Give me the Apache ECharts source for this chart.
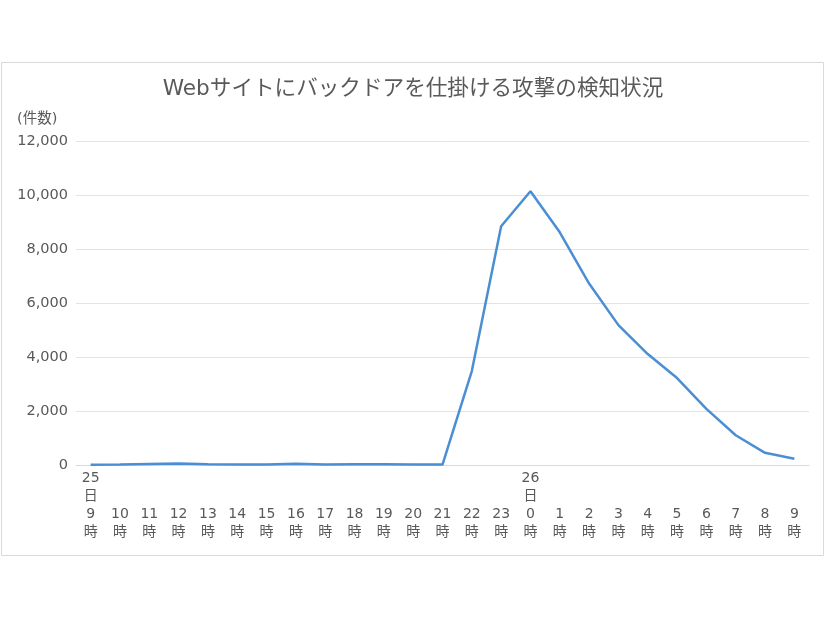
<!DOCTYPE html>
<html><head><meta charset="utf-8">
<script src="https://cdn.jsdelivr.net/npm/echarts@6/dist/echarts.min.js"></script>
<style>html,body{margin:0;padding:0;background:#fff}#c{width:826px;height:620px}</style>
</head><body><div id="c"></div>
<script>
const titleText = 'Webサイトにバックドアを仕掛ける攻撃の検知状況';
const unitLabel = '(件数)';
const categories = ['25日9時','10時','11時','12時','13時','14時','15時','16時','17時','18時','19時','20時','21時','22時','23時','26日0時','1時','2時','3時','4時','5時','6時','7時','8時','9時'];
const counts = [10, 15, 40, 60, 30, 15, 15, 45, 15, 30, 30, 15, 15, 3480, 8840, 10140, 8620, 6720, 5180, 4110, 3220, 2080, 1100, 450, 230];
const yTicks = { min: 0, max: 12000, interval: 2000 };

const chart = echarts.init(document.getElementById('c'), null, {renderer: 'canvas'});
const font = '"DejaVu Sans", "Noto Sans CJK JP", sans-serif';
chart.setOption({
  animation: false,
  backgroundColor: '#fff',
  textStyle: { fontFamily: font },
  graphic: [{
    type: 'rect', shape: { x: 1.5, y: 62.5, width: 822, height: 493 },
    style: { fill: 'none', stroke: '#d9d9d9', lineWidth: 1 }, silent: true
  }],
  title: [{
    text: titleText, left: 'center', top: 74,
    textStyle: { color: '#595959', fontSize: 21.6, fontWeight: 'normal', fontFamily: font }
  }, {
    text: unitLabel, left: 12, top: 107,
    textStyle: { color: '#595959', fontSize: 14.5, fontWeight: 'normal', fontFamily: font }
  }],
  grid: { left: 76, right: 17, top: 141, bottom: 155, containLabel: false },
  xAxis: {
    type: 'category', data: categories, boundaryGap: true,
    axisLine: { lineStyle: { color: '#d9d9d9' } },
    axisTick: { show: false },
    axisLabel: {
      interval: 0, margin: 4, color: '#595959', fontSize: 14, lineHeight: 18, fontFamily: font,
      formatter: function (v) {
        const m = v.match(/^(?:(\d+)日)?(\d+)時$/);
        if (m[1]) return m[1] + '\n日\n' + m[2] + '\n時';
        return '\n\n' + m[2] + '\n時';
      }
    }
  },
  yAxis: {
    type: 'value', min: yTicks.min, max: yTicks.max, interval: yTicks.interval,
    axisLine: { show: false }, axisTick: { show: false },
    splitLine: { lineStyle: { color: '#e3e3e3' } },
    axisLabel: {
      color: '#595959', fontSize: 14.5, margin: 8, fontFamily: font,
      formatter: function (v) { return v.toLocaleString('en-US'); }
    }
  },
  series: [{
    type: 'line', data: counts, showSymbol: false, symbol: 'none',
    lineStyle: { color: '#4a8fd4', width: 2.5 }, itemStyle: { color: '#4a8fd4' }
  }]
});
</script></body></html>
